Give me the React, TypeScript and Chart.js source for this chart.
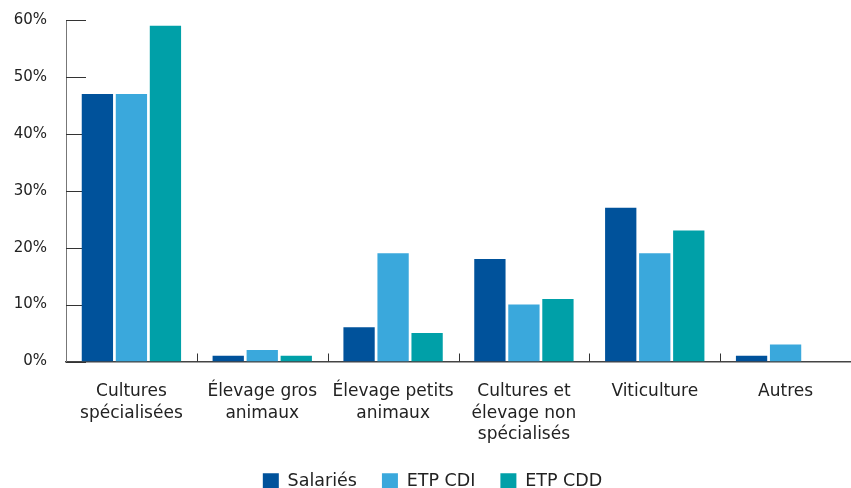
import React, { useEffect, useRef } from "react";
import { Chart, registerables } from "chart.js";

Chart.register(...registerables);

const categories: string[][] = [
  ["Cultures", "spécialisées"],
  ["Élevage gros", "animaux"],
  ["Élevage petits", "animaux"],
  ["Cultures et", "élevage non", "spécialisés"],
  ["Viticulture"],
  ["Autres"],
];
const salaries = [47, 1, 6, 18, 27, 1];
const etpCdi = [47, 2, 19, 10, 19, 3];
const etpCdd = [59, 1, 5, 11, 23, 0];
const yTicks = [0, 10, 20, 30, 40, 50, 60];

const FONT = "'DejaVu Sans', sans-serif";
const TEXT = "#222222";

const tickPlugin = {
  id: "innerTicks",
  beforeDatasetsDraw(chart: any) {
    const { ctx, chartArea, scales } = chart;
    const y = scales.y;
    const x = scales.x;
    ctx.save();
    ctx.strokeStyle = "#333333";
    ctx.lineWidth = 1;
    yTicks.forEach((v) => {
      const py = Math.round(y.getPixelForValue(v)) + 0.5;
      ctx.beginPath();
      ctx.moveTo(chartArea.left, py);
      ctx.lineTo(chartArea.left + 20, py);
      ctx.stroke();
    });
    const half = (x.getPixelForValue(1) - x.getPixelForValue(0)) / 2;
    for (let i = 1; i < categories.length; i++) {
      const px = Math.round(x.getPixelForValue(i) - half) + 0.5;
      ctx.beginPath();
      ctx.moveTo(px, chartArea.bottom);
      ctx.lineTo(px, chartArea.bottom - 8);
      ctx.stroke();
    }
    ctx.restore();
  },
};

export default function App() {
  const ref = useRef<HTMLCanvasElement | null>(null);
  useEffect(() => {
    if (!ref.current) return;
    const chart = new Chart(ref.current, {
      type: "bar",
      data: {
        labels: categories,
        datasets: [
          { label: "Salariés", data: salaries, backgroundColor: "#00529b" },
          { label: "ETP CDI", data: etpCdi, backgroundColor: "#3aa8dc" },
          { label: "ETP CDD", data: etpCdd, backgroundColor: "#00a0a8" },
        ],
      },
      options: {
        responsive: false,
        animation: false,
        layout: { padding: { top: 20, left: 14, right: 0, bottom: 0 } },
        datasets: {
          bar: { categoryPercentage: 0.78, barPercentage: 0.92 },
        },
        plugins: {
          tooltip: { enabled: false },
          legend: {
            position: "bottom",
            labels: {
              boxWidth: 16,
              boxHeight: 16,
              padding: 25,
              color: TEXT,
              font: { family: FONT, size: 17.5 },
            },
          },
        },
        scales: {
          x: {
            grid: { display: false, drawTicks: false },
            border: { display: true, color: "#444444", width: 1.5 },
            ticks: {
              color: TEXT,
              padding: 19,
              maxRotation: 0,
              autoSkip: false,
              font: { family: FONT, size: 17, lineHeight: 1.28 },
            },
            afterFit: (s: any) => {
              s.height = 86;
            },
          },
          y: {
            min: 0,
            max: 60,
            grid: { display: false, drawTicks: false },
            border: { display: true, color: "#777777", width: 1 },
            ticks: {
              color: TEXT,
              padding: 19,
              stepSize: 10,
              callback: (v: any) => v + "%",
              font: { family: FONT, size: 15 },
            },
            afterFit: (s: any) => {
              s.width = 52;
              s.paddingTop = 8;
              s.paddingBottom = 0;
            },
          },
        },
      },
      plugins: [tickPlugin],
    });
    return () => chart.destroy();
  }, []);
  return (
    <div
      style={{
        position: "absolute",
        top: 0,
        left: 0,
        width: 851,
        height: 488,
        overflow: "hidden",
        background: "#fff",
      }}
    >
      <canvas ref={ref} width={851} height={500} style={{ display: "block" }} />
    </div>
  );
}
